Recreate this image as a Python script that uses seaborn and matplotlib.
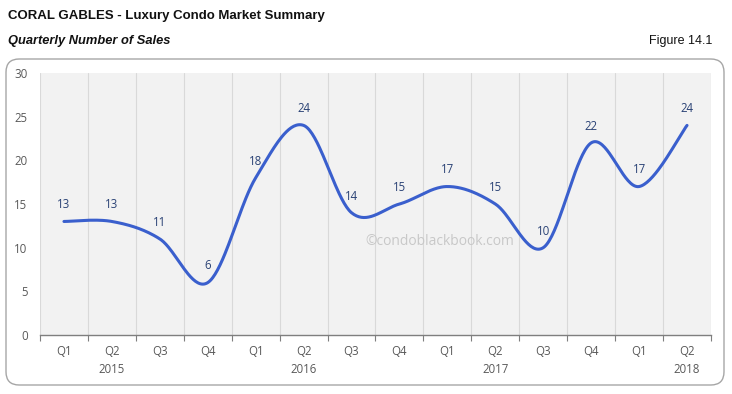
import numpy as np
import pandas as pd
import matplotlib
matplotlib.use('Agg')
import matplotlib.pyplot as plt
import seaborn as sns
from matplotlib.patches import FancyBboxPatch

# data
quarters = ['Q1', 'Q2', 'Q3', 'Q4', 'Q1', 'Q2', 'Q3', 'Q4', 'Q1', 'Q2', 'Q3', 'Q4', 'Q1', 'Q2']
years = ['', '2015', '', '', '', '2016', '', '', '', '2017', '', '', '', '2018']
sales = [13, 13, 11, 6, 18, 24, 14, 15, 17, 15, 10, 22, 17, 24]

line_color = '#3a5fcd'
label_color = '#2a4275'
tick_font = ['Open Sans', 'DejaVu Sans']

sns.set_theme(style='white')
plt.rcParams['font.family'] = ['Liberation Sans', 'DejaVu Sans']


# smooth curve like excel (bezier through the points)
def smooth(xs, ys, n=40):
    pts = np.column_stack([xs, ys]).astype(float)
    p = np.vstack([pts[0], pts, pts[-1]])
    out = []
    for i in range(1, len(p) - 2):
        p0, p3 = p[i], p[i + 1]
        c1 = p0 + (p[i + 1] - p[i - 1]) / 6
        c2 = p3 - (p[i + 2] - p[i]) / 6
        t = np.linspace(0, 1, n)[:, None]
        seg = (1 - t) ** 3 * p0 + 3 * (1 - t) ** 2 * t * c1 + 3 * (1 - t) * t ** 2 * c2 + t ** 3 * p3
        out.append(seg if i == 1 else seg[1:])
    out = np.vstack(out)
    return out[:, 0], out[:, 1]


x = np.arange(len(sales))
sx, sy = smooth(x, sales)
df = pd.DataFrame({'x': sx, 'y': sy})

fig = plt.figure(figsize=(7.32, 3.94), dpi=100)
W, H = 732, 394

# rounded frame around the chart
box = FancyBboxPatch((6 / W, 1 - 385 / H), 718 / W, 326 / H,
                     boxstyle='round,pad=0,rounding_size=0.018',
                     transform=fig.transFigure, facecolor='white',
                     edgecolor='#a6a6a6', linewidth=1, mutation_aspect=W / H,
                     zorder=-1)
fig.patches.append(box)

ax = fig.add_axes([40 / W, 1 - 335 / H, 671 / W, 262 / H])
ax.set_facecolor('#f2f2f2')

sns.lineplot(data=df, x='x', y='y', ax=ax, color=line_color, linewidth=2.2, sort=False)

for xi, v in zip(x, sales):
    ax.annotate(str(v), (xi, v), xytext=(0, 12), textcoords='offset points',
                ha='center', va='center', fontsize=8.3, color=label_color, family=tick_font)

ax.set_xlim(-0.5, len(sales) - 0.5)
ax.set_ylim(0, 30)
ax.set_yticks(range(0, 31, 5))
ax.set_xticks(x)
ax.set_xticklabels([q + '\n' + y for q, y in zip(quarters, years)],
                   fontsize=8.3, color='#595959', linespacing=1.5, family=tick_font)
ax.set_yticklabels([str(v) for v in range(0, 31, 5)], family=tick_font)
ax.set_xticks(np.arange(-0.5, len(sales), 1), minor=True)
ax.tick_params(axis='x', which='major', length=0, pad=7)
ax.tick_params(axis='x', which='minor', length=4, color='#7f7f7f', width=0.8, bottom=True)
ax.tick_params(axis='y', length=0, labelsize=8.3, labelcolor='#595959', pad=9)
ax.grid(axis='x', which='minor', color='#d9d9d9', linewidth=0.8)
ax.grid(axis='x', which='major', visible=False)
ax.set_xlabel('')
ax.set_ylabel('')
for s in ['top', 'right', 'left']:
    ax.spines[s].set_visible(False)
ax.spines['bottom'].set_color('#7f7f7f')
ax.spines['bottom'].set_linewidth(1)

ax.text(0.5965, 0.355, '\u00a9condoblackbook.com', transform=ax.transAxes,
        ha='center', va='center', fontsize=10, color='#c8c8c8', family=tick_font)

fig.text(8 / W, 1 - 16 / H, 'CORAL GABLES - Luxury Condo Market Summary',
         fontsize=9.5, fontweight='bold', color='#111111', va='center', ha='left')
fig.text(8 / W, 1 - 41 / H, 'Quarterly Number of Sales',
         fontsize=9.3, fontweight='bold', fontstyle='italic', color='#111111', va='center', ha='left')
fig.text(712 / W, 1 - 41 / H, 'Figure 14.1', fontsize=9, color='#111111', va='center', ha='right')

fig.savefig('out.png', dpi=100)
